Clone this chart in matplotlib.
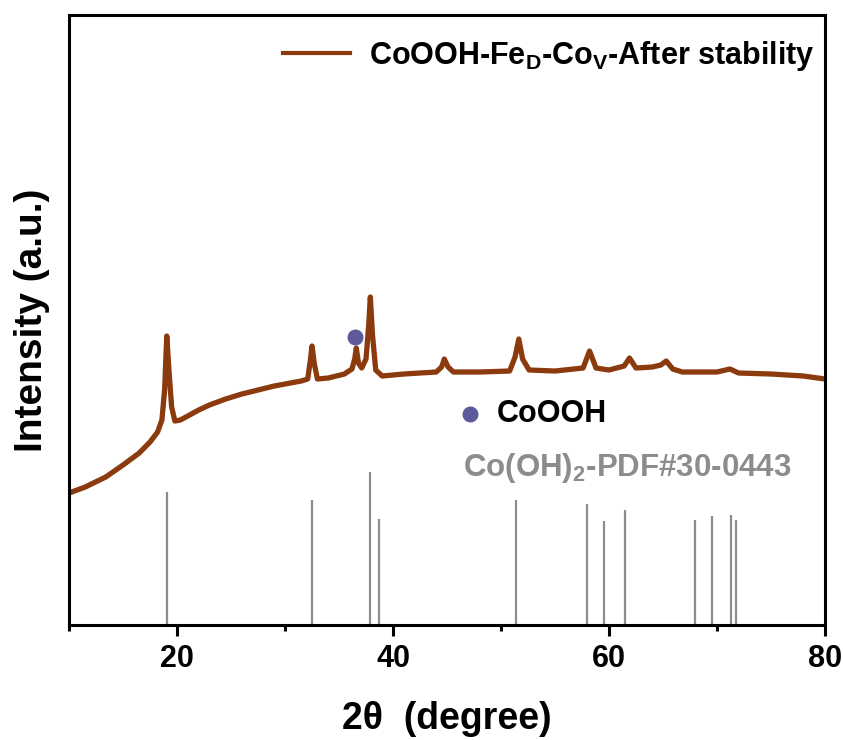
import matplotlib
matplotlib.use("Agg")
import matplotlib.pyplot as plt
from matplotlib.ticker import MultipleLocator

plt.rcParams["font.family"] = ["Liberation Sans", "DejaVu Sans"]
plt.rcParams["font.weight"] = "bold"
plt.rcParams["mathtext.fontset"] = "custom"
plt.rcParams["mathtext.rm"] = "Liberation Sans:bold"
plt.rcParams["mathtext.bf"] = "Liberation Sans:bold"

two_theta = [10.0, 11.5, 13.4, 15.0, 16.5, 17.5, 18.2, 18.6, 18.85, 19.05,
             19.25, 19.5, 19.8, 20.3, 21.0, 22.0, 23.0, 24.5, 26.0, 27.5,
             29.0, 30.5, 31.5, 32.1, 32.35, 32.5, 32.7, 33.0, 34.0, 35.5,
             36.2, 36.45, 36.6, 36.8, 37.1, 37.5, 37.75, 37.9, 38.1, 38.4,
             39.0, 41.0, 44.0, 44.5, 44.75, 45.1, 45.6, 48.0, 50.8, 51.3,
             51.65, 52.0, 52.6, 55.0, 57.6, 58.2, 58.8, 60.0, 61.4, 61.9,
             62.5, 64.0, 64.8, 65.3, 65.9, 66.8, 70.0, 71.2, 72.0, 75.0,
             78.0, 80.0]
intensity = [132, 138, 148, 160, 172, 183, 193, 205, 235, 289,
             255, 218, 204, 205, 209, 215, 220, 226, 231, 235,
             239, 242, 244, 246, 265, 279, 262, 246, 247, 251,
             256, 266, 277, 262, 257, 266, 300, 328, 290, 255,
             249, 251, 253, 258, 266, 258, 253, 253, 254, 268,
             286, 266, 255, 254, 257, 274, 257, 255, 259, 267,
             257, 258, 260, 264, 256, 253, 253, 256, 252, 251,
             249, 246]

# Co(OH)2 reference PDF#30-0443 sticks
ref_pos = [19.07, 32.5, 37.9, 38.7, 51.4, 58.0, 59.5, 61.5, 68.0, 69.5, 71.3, 71.8]
ref_int = [133, 125, 153, 106, 125, 121, 104, 115, 105, 109, 110, 105]

# CoOOH marked peak
coooh_pos = [36.5]
coooh_int = [288]

curve_color = "#8B3A0E"
dot_color = "#5C5A9A"
ref_color = "#8C8C8C"

fig = plt.figure(figsize=(8.45, 7.4), dpi=100)
ax = fig.add_axes([0.0817, 0.1554, 0.8946, 0.8243])

ax.plot(two_theta, intensity, color=curve_color, linewidth=3.8,
        solid_joinstyle="round", label=r"CoOOH-Fe$_\mathbf{D}$-Co$_\mathbf{V}$-After stability")
ax.vlines(ref_pos, 0, ref_int, color=ref_color, linewidth=1.6)
ax.plot(coooh_pos, coooh_int, "o", color=dot_color, markersize=10.5)

# annotation labels
ax.plot([47.13], [211], "o", color=dot_color, markersize=10.5)
ax.text(49.6, 211, "CoOOH", fontsize=22, fontweight="bold", va="center", ha="left")
ax.text(46.5, 157, r"Co(OH)$_\mathbf{2}$-PDF#30-0443", fontsize=22.5, fontweight="bold",
        color=ref_color, va="center", ha="left")

ax.set_xlim(10, 80)
ax.set_ylim(0, 610)
ax.set_yticks([])
ax.xaxis.set_major_locator(MultipleLocator(20))
ax.xaxis.set_minor_locator(MultipleLocator(10))
ax.tick_params(axis="x", which="major", direction="out", length=8, width=2.2,
               labelsize=22, pad=6)
ax.tick_params(axis="x", which="minor", direction="out", length=4, width=2.2)
for s in ax.spines.values():
    s.set_linewidth(2.2)

ax.set_xlabel("2θ  (degree)", fontsize=27, fontweight="bold", labelpad=19)
ax.set_ylabel("Intensity (a.u.)", fontsize=28, fontweight="bold", labelpad=14)

leg = ax.legend(loc="upper right", bbox_to_anchor=(1.022, 1.006), frameon=False,
                fontsize=22, handlelength=2.2, handletextpad=0.6)
for line in leg.get_lines():
    line.set_linewidth(3)

fig.savefig("out.png", dpi=100)
